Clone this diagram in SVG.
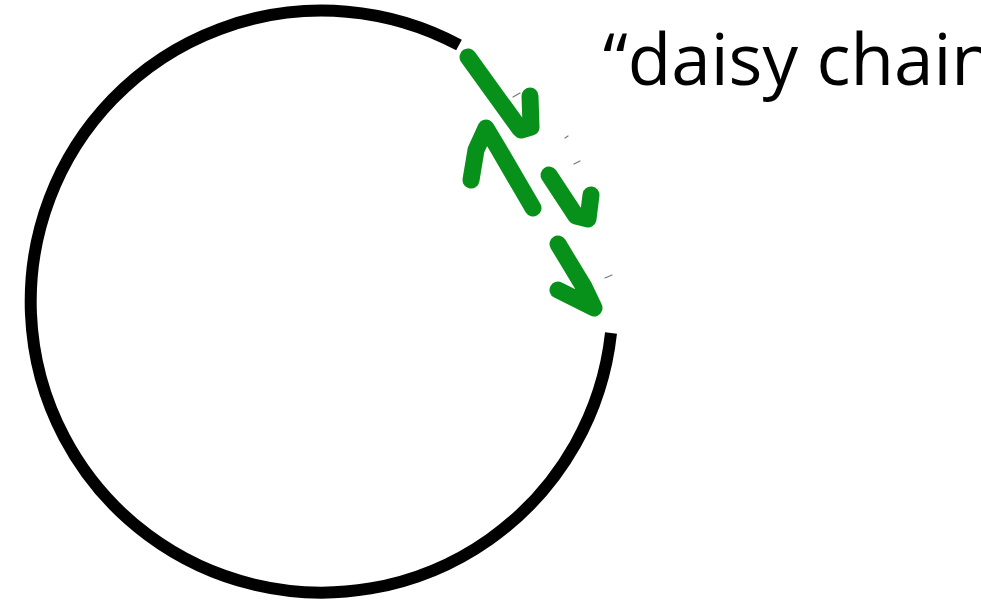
<svg xmlns="http://www.w3.org/2000/svg" width="981" height="603" viewBox="0 0 981 603">
<style>
.ring{fill:none;stroke:#000;stroke-width:12}
.pen{fill:none;stroke:#07911a;stroke-width:17;stroke-linecap:round;stroke-linejoin:round}
.tick{fill:none;stroke:#777;stroke-width:1.2;stroke-linecap:round}
.lbl{font-family:"Open Sans","Noto Sans",sans-serif;font-size:71px;fill:#000}
</style>
<rect width="981" height="603" fill="#fff"/>
<g id="ring">
<path class="ring" d="M 459 45 A 291 291 0 1 0 611 333"/>
</g>
<g id="marks">
<path class="pen" d="M 468 57 L 520 129 M 521 130 L 531 127 L 530 96"/>
<path class="pen" d="M 471 180 L 476 150 L 486 128 L 498 148 L 533 208"/>
<path class="pen" d="M 549 175 L 576 216 L 588 219 L 591 195"/>
<path class="pen" d="M 558 244 L 584 287 L 594 308 L 558 290"/>
<path class="tick" d="M 513 97 L 520 93 M 565 138 L 568 136 M 574 164 L 580 161 M 605 278 L 612 275"/>
</g>
<g id="label">
<text class="lbl" x="603" y="85">“daisy chain”</text>
</g>
</svg>
